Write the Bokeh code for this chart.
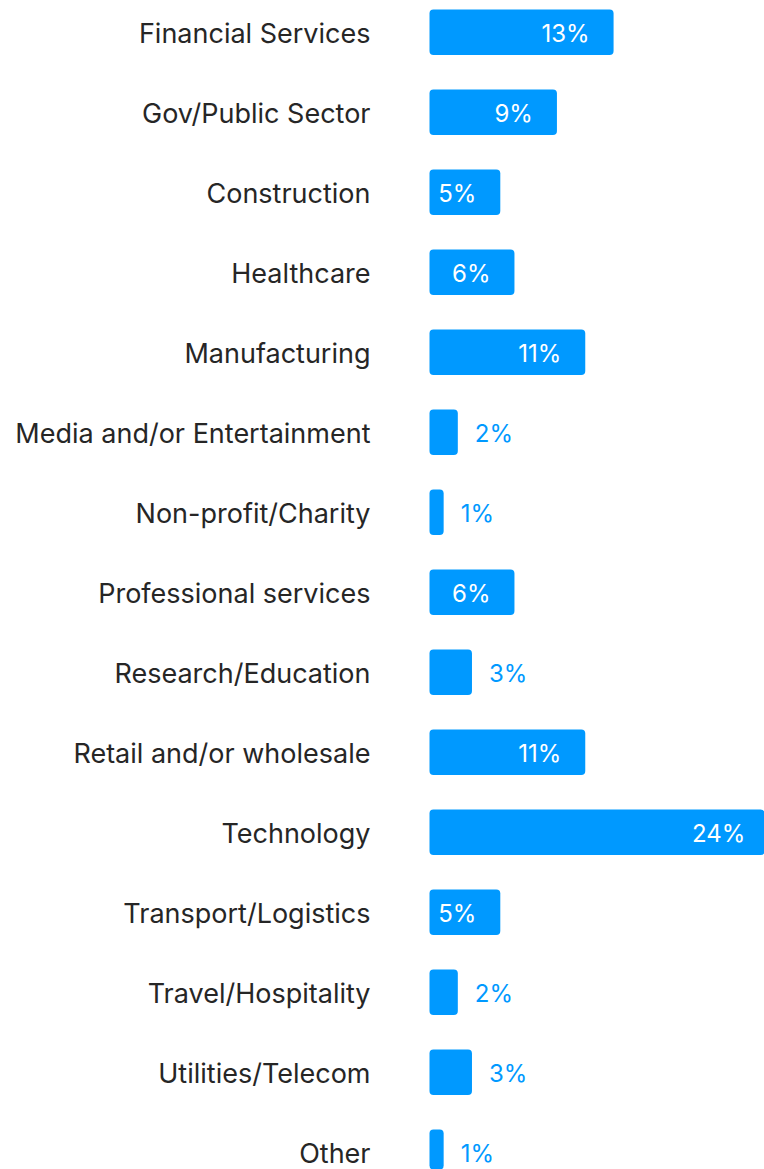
from bokeh.plotting import figure
from bokeh.models import ColumnDataSource, Range1d
from bokeh.core.properties import value
from bokeh.embed import file_html
from bokeh.resources import INLINE

categories = [
    "Financial Services", "Gov/Public Sector", "Construction", "Healthcare",
    "Manufacturing", "Media and/or Entertainment", "Non-profit/Charity",
    "Professional services", "Research/Education", "Retail and/or wholesale",
    "Technology", "Transport/Logistics", "Travel/Hospitality",
    "Utilities/Telecom", "Other",
]
values = [13, 9, 5, 6, 11, 2, 1, 6, 3, 11, 24, 5, 2, 3, 1]
labels = [f"{v}%" for v in values]

BLUE = "#0099ff"
FONT = value("Inter")

rows = list(range(len(categories)))
src = ColumnDataSource(dict(y=rows, v=values, cat=categories, lab=labels,
                            zero=[0] * len(rows)))
inside_idx = [i for i, v in enumerate(values) if v >= 4]
outside_idx = [i for i, v in enumerate(values) if v < 4]
src_in = ColumnDataSource(dict(y=[rows[i] for i in inside_idx],
                               v=[values[i] for i in inside_idx],
                               lab=[labels[i] for i in inside_idx]))
src_out = ColumnDataSource(dict(y=[rows[i] for i in outside_idx],
                                v=[values[i] for i in outside_idx],
                                lab=[labels[i] for i in outside_idx]))

W, H = 764, 1169
px_per_unit = 14.16
zero_px = 429.0
row_px = 80.0
top_px = 31.8

p = figure(width=W, height=H, output_backend="svg", toolbar_location=None,
           x_range=Range1d(-zero_px / px_per_unit, (W - zero_px) / px_per_unit),
           y_range=Range1d((H - top_px) / row_px, -top_px / row_px),
           min_border=0, min_border_left=0, min_border_right=0,
           min_border_top=0, min_border_bottom=0)
p.axis.visible = False
p.grid.visible = False
p.outline_line_color = None
p.background_fill_color = "white"
p.border_fill_color = "white"

p.hbar(y="y", left=0, right="v", height=0.57, source=src,
       fill_color=BLUE, line_color=None, border_radius=4)

p.text(x="zero", y="y", text="cat", source=src, text_font=FONT,
       text_font_size="27px", text_color="#262626", text_align="right",
       text_baseline="middle", x_offset=-59, y_offset=1)

p.text(x="v", y="y", text="lab", source=src_in, text_font=FONT,
       text_font_size="24px", text_color="white", text_align="right",
       text_baseline="middle", x_offset=-24, y_offset=1)

p.text(x="v", y="y", text="lab", source=src_out, text_font=FONT,
       text_font_size="24px", text_color=BLUE, text_align="left",
       text_baseline="middle", x_offset=17, y_offset=1)

open("out.html", "w").write(file_html(p, INLINE))
